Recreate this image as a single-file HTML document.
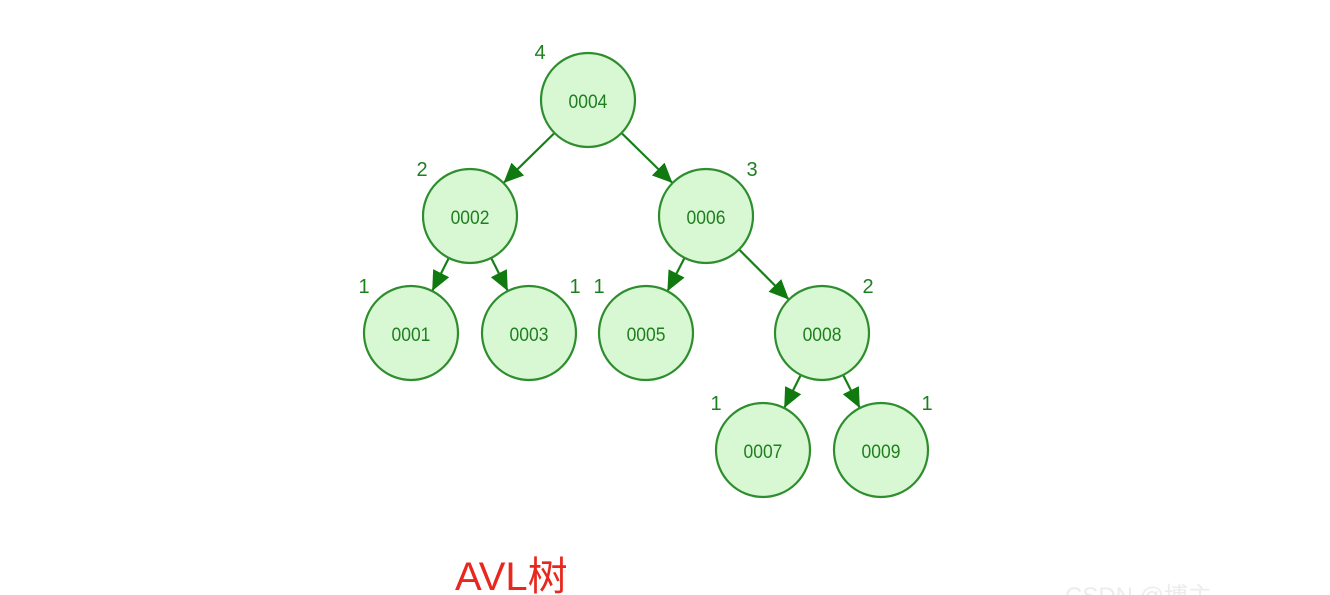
<!DOCTYPE html>
<html><head><meta charset="utf-8"><style>
html,body{margin:0;padding:0;background:#fff;width:1330px;height:595px;overflow:hidden}
</style></head><body>
<svg width="1330" height="595" viewBox="0 0 1330 595" xmlns="http://www.w3.org/2000/svg">
<defs>
<marker id="a" markerUnits="userSpaceOnUse" markerWidth="22" markerHeight="18" refX="20" refY="9" orient="auto">
<path d="M0,0 L20,9 L0,18 Z" fill="#107a10"/>
</marker>
</defs>
<g stroke="#168016" stroke-width="2.2" marker-end="url(#a)">
<line x1="554.5" y1="133" x2="503.5" y2="183"/>
<line x1="621.5" y1="133" x2="672.5" y2="183"/>
<line x1="448.8" y1="258" x2="432.2" y2="291"/>
<line x1="491.2" y1="258" x2="507.8" y2="291"/>
<line x1="684.6" y1="257.8" x2="667.4" y2="291.2"/>
<line x1="739" y1="249.4" x2="789" y2="299.6"/>
<line x1="800.8" y1="375" x2="784.2" y2="408"/>
<line x1="843.2" y1="375" x2="859.8" y2="408"/>
</g>
<g fill="#d8f8d4" stroke="#2e8e2e" stroke-width="2.2">
<circle cx="588" cy="100" r="47"/>
<circle cx="470" cy="216" r="47"/>
<circle cx="706" cy="216" r="47"/>
<circle cx="411" cy="333" r="47"/>
<circle cx="529" cy="333" r="47"/>
<circle cx="646" cy="333" r="47"/>
<circle cx="822" cy="333" r="47"/>
<circle cx="763" cy="450" r="47"/>
<circle cx="881" cy="450" r="47"/>
</g>
<g fill="#1f7f1f" font-family="Liberation Sans, sans-serif" font-size="20" text-anchor="middle" dominant-baseline="central">
<g font-size="19" transform="scale(0.92,1)">
<text x="639.1" y="101">0004</text>
<text x="510.9" y="217">0002</text>
<text x="767.4" y="217">0006</text>
<text x="446.7" y="334">0001</text>
<text x="575" y="334">0003</text>
<text x="702.2" y="334">0005</text>
<text x="893.5" y="334">0008</text>
<text x="829.3" y="451">0007</text>
<text x="957.6" y="451">0009</text>
</g>
<text x="540" y="53">4</text>
<text x="422" y="170">2</text>
<text x="752" y="170">3</text>
<text x="364" y="287">1</text>
<text x="575" y="287">1</text>
<text x="599" y="287">1</text>
<text x="868" y="287">2</text>
<text x="716" y="404">1</text>
<text x="927" y="404">1</text>
</g>
<text x="455" y="590" fill="#e8281e" font-family="Liberation Sans, Noto Sans CJK SC, sans-serif" font-size="40">AVL树</text>
<text x="1065" y="604" fill="#ececec" font-family="Liberation Sans, Noto Sans CJK SC, sans-serif" font-size="24">CSDN @博主</text>
</svg>
</body></html>
